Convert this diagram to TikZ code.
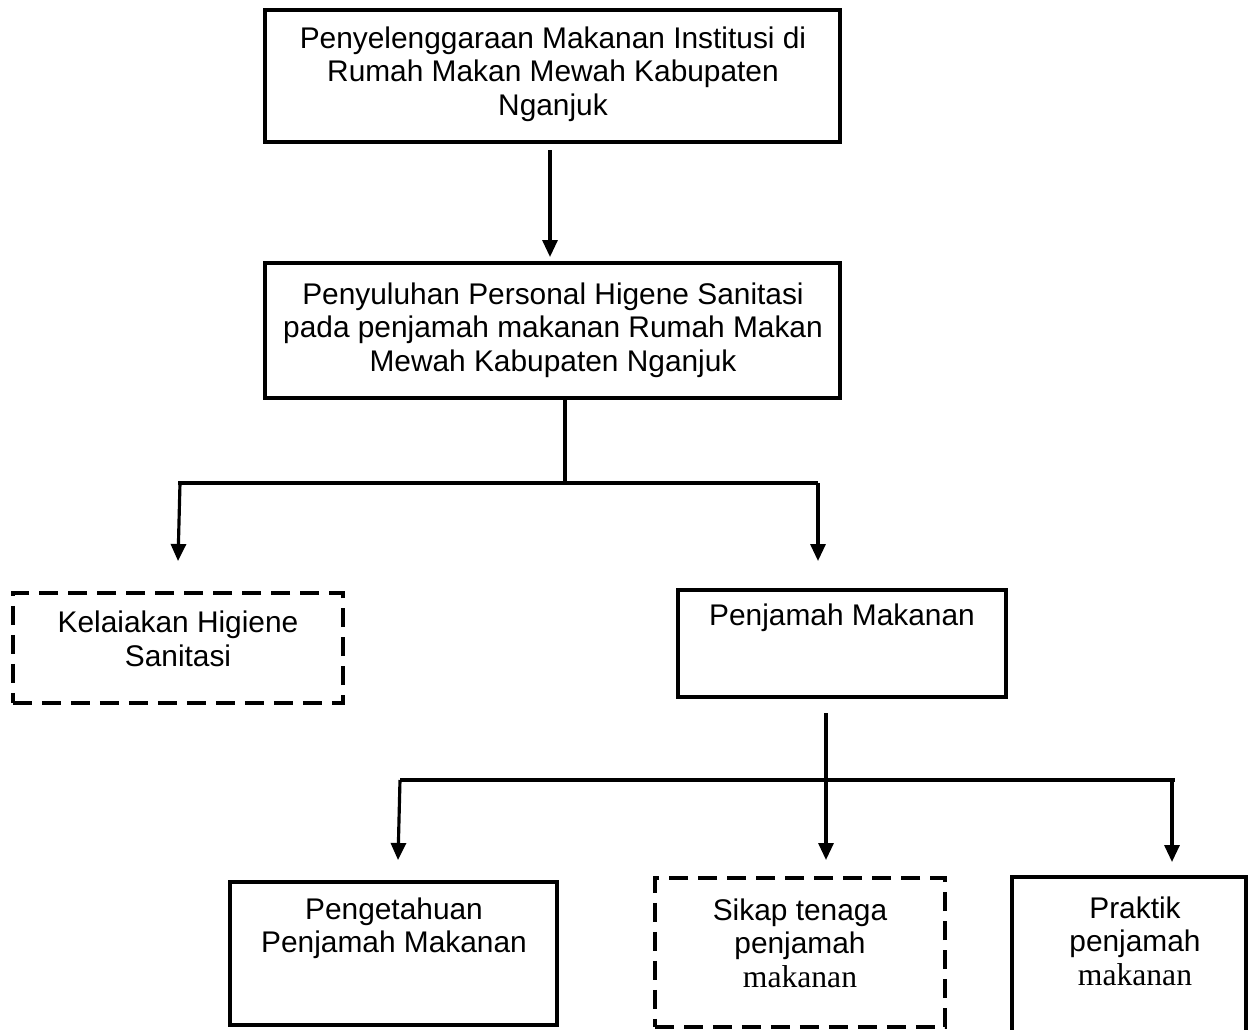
\documentclass[tikz,border=0pt]{standalone}
\usepackage{fontspec}
\setmainfont{Liberation Sans}
\newfontfamily\serifpart{Liberation Serif}
\usetikzlibrary{arrows.meta,fit}
\begin{document}
\begin{tikzpicture}[x=0.02cm,y=-0.02cm,
  box/.style={draw, line width=2.2pt, rectangle, inner sep=0pt},
  dbox/.style={box, dash pattern=on 0.38cm off 0.2cm},
  lbl/.style={align=center, font=\fontsize{17}{19}\selectfont, inner sep=0pt},
  conn/.style={line width=1.8pt},
  arr/.style={conn, -{Triangle[width=0.3cm,length=0.34cm]}}]
\useasboundingbox (0,0) rectangle (1248,1029);
\clip (0,0) rectangle (1248,1029);
% boxes
\node[box, fit={(265,10) (840,142)}] (b1) {};
\node[lbl] (t1) at (553,74) {Penyelenggaraan Makanan Institusi di\\Rumah Makan Mewah Kabupaten\\Nganjuk};
\node[box, fit={(265,263) (840,398)}] (b2) {};
\node[lbl] (t2) at (553,330) {Penyuluhan Personal Higene Sanitasi\\pada penjamah makanan Rumah Makan\\Mewah Kabupaten Nganjuk};
\node[dbox, fit={(13,593) (343,703)}] (b3) {};
\node[lbl] (t3) at (178,639) {Kelaiakan Higiene\\Sanitasi};
\node[box, fit={(678,590) (1006,697)}] (b4) {};
\node[lbl] (t4) at (842,618) {Penjamah Makanan};
\node[box, fit={(230,882) (557,1025)}] (b5) {};
\node[lbl] (t5) at (394,928) {Pengetahuan\\Penjamah Makanan};
\node[dbox, fit={(655,878) (945,1027)}] (b6) {};
\node[lbl] (t6) at (800,943) {Sikap tenaga\\penjamah\\{\serifpart\fontsize{18}{19}\selectfont makanan}};
\node[box, fit={(1012,877) (1246,1080)}] (b7) {};
\node[lbl] (t7) at (1135,941) {Praktik\\penjamah\\{\serifpart\fontsize{18}{19}\selectfont makanan}};
% coordinates
\coordinate (a1s) at (550,150);
\coordinate (a1e) at (550,257);
\coordinate (j1) at (565,483);
\coordinate (h1l) at (178,483);
\coordinate (h1r) at (818,483);
\coordinate (l1s) at (180,483);
\coordinate (l1e) at (178,561);
\coordinate (r1e) at (818,561);
\coordinate (a2s) at (826,713);
\coordinate (a2e) at (826,860);
\coordinate (h2l) at (400,780);
\coordinate (h2r) at (1175,780);
\coordinate (l2s) at (400,780);
\coordinate (l2e) at (398,860);
\coordinate (r2s) at (1172,780);
\coordinate (r2e) at (1172,862);
% connectors
\draw[arr] (a1s) -- (a1e);
\draw[conn] (b2.south -| j1) -- (j1);
\draw[conn] (h1l) -- (h1r);
\draw[arr] (l1s) -- (l1e);
\draw[arr] (h1r) -- (r1e);
\draw[arr] (a2s) -- (a2e);
\draw[conn] (h2l) -- (h2r);
\draw[arr] (l2s) -- (l2e);
\draw[arr] (r2s) -- (r2e);
\end{tikzpicture}
\end{document}
